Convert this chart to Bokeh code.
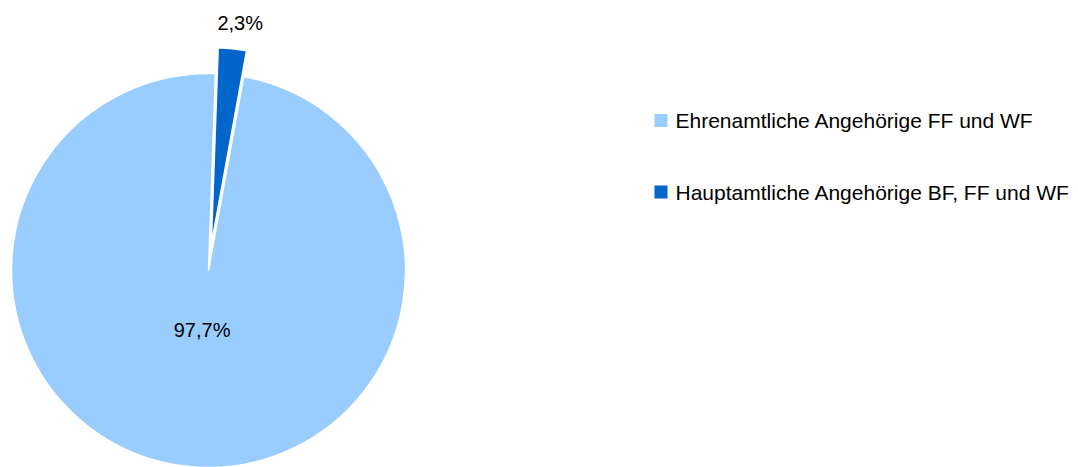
import math
from bokeh.plotting import figure
from bokeh.models import Range1d
from bokeh.embed import file_html
from bokeh.resources import INLINE
from bokeh.core.properties import value

# ---- data ----
categories = ["Ehrenamtliche Angehörige FF und WF", "Hauptamtliche Angehörige BF, FF und WF"]
values = [97.7, 2.3]
labels = ["97,7%", "2,3%"]
colors = ["#99CCFF", "#0066CC"]
explode = [0, 26]

# ---- layout ----
W, H = 1078, 467
cx, cy = 208, H - 270
R = 197
first_angle = 10.3  # degrees clockwise from top
FONT = "Liberation Sans"

p = figure(width=W, height=H, output_backend="svg", toolbar_location=None,
           x_range=Range1d(0, W), y_range=Range1d(0, H), min_border=0)
p.axis.visible = False
p.grid.visible = False
p.outline_line_color = None
p.background_fill_color = "white"
p.border_fill_color = "white"

total = sum(values)
a0 = first_angle
label_r = [60, 249]
label_dx = [0, 5]
for i, v in enumerate(values):
    span = v / total * 360.0
    a1 = a0 + span
    mid = math.radians((a0 + a1) / 2)
    ox = explode[i] * math.sin(mid)
    oy = explode[i] * math.cos(mid)
    p.wedge(x=[cx + ox], y=[cy + oy], radius=R, radius_units="data",
            start_angle=[math.radians(90 - a1)], end_angle=[math.radians(90 - a0)],
            fill_color=colors[i], line_color="white", line_width=1.5)
    lx = cx + label_r[i] * math.sin(mid) + label_dx[i]
    ly = cy + label_r[i] * math.cos(mid)
    p.text(x=[lx], y=[ly], text=[labels[i]], text_font=value(FONT),
           text_font_size="20px", text_align="center", text_baseline="middle",
           text_color="black")
    a0 = a1

# legend
leg_x = 654
leg_mid = [H - 120, H - 191.5]
for i, c in enumerate(categories):
    p.rect(x=[leg_x + 6.5], y=[leg_mid[i]], width=13, height=13,
           fill_color=colors[i], line_color=None)
    p.text(x=[leg_x + 21], y=[leg_mid[i]], text=[c], text_font=value(FONT),
           text_font_size="21px", text_align="left", text_baseline="middle",
           text_color="black")

open("out.html", "w").write(file_html(p, INLINE))
